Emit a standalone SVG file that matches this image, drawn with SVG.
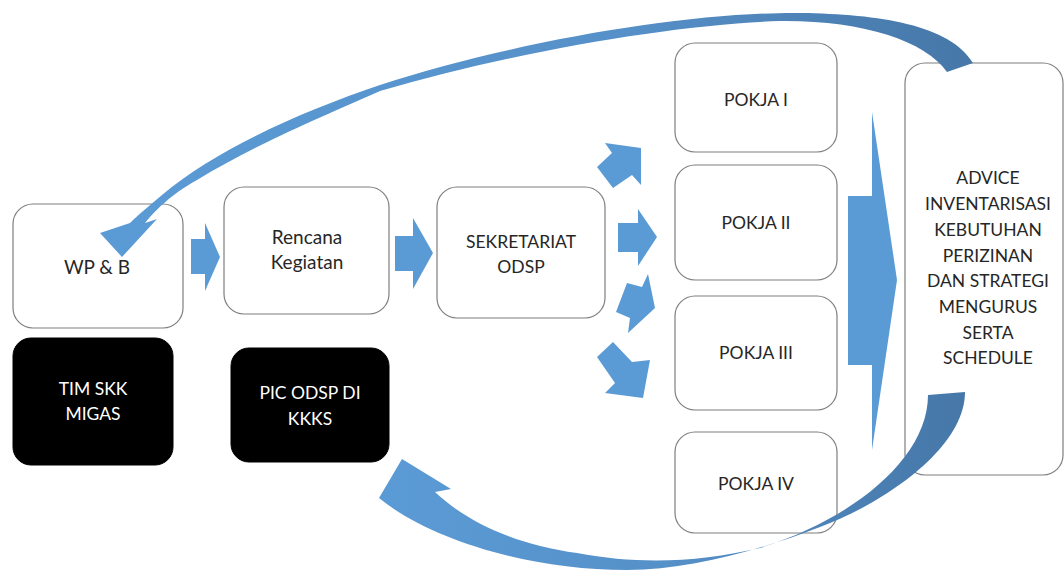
<svg xmlns="http://www.w3.org/2000/svg" width="1064" height="571" viewBox="0 0 1064 571">
<defs>
<style>
.box{fill:#fff;stroke:#7f7f7f;stroke-width:1.2}
.blk{fill:#000;stroke:#000}
.t{font-family:Lato,"Open Sans","Liberation Sans",sans-serif;font-size:17.5px;fill:#262626;text-anchor:middle}
.tl{font-size:19px}
.tw{font-family:Lato,"Open Sans","Liberation Sans",sans-serif;font-size:17.5px;fill:#fff;text-anchor:middle}
.arr{fill:#5b9bd5}
</style>
<linearGradient id="gTop" x1="0" y1="0" x2="1" y2="0">
<stop offset="0" stop-color="#5b9bd5"/>
<stop offset="0.6" stop-color="#5690c8"/>
<stop offset="1" stop-color="#4677a8"/>
</linearGradient>
<linearGradient id="gBot" x1="0" y1="0" x2="1" y2="0">
<stop offset="0" stop-color="#5b9bd5"/>
<stop offset="0.5" stop-color="#5590c8"/>
<stop offset="1" stop-color="#4677a8"/>
</linearGradient>
</defs>
<rect width="1064" height="571" fill="#fff"/>

<g id="wpb"><rect class="box" x="13" y="204" width="170" height="124" rx="20"/><text class="t tl" x="97" y="274">WP &amp; B</text></g>
<g id="timskk"><rect class="blk" x="13" y="338" width="160" height="127" rx="18"/><text class="tw" x="93" y="395">TIM SKK</text><text class="tw" x="93" y="420">MIGAS</text></g>
<g id="rencana"><rect class="box" x="224" y="187" width="165" height="127" rx="20"/><text class="t tl" x="307" y="244">Rencana</text><text class="t tl" x="307" y="269">Kegiatan</text></g>
<g id="pic"><rect class="blk" x="231" y="348" width="158" height="114" rx="18"/><text class="tw" x="310" y="399">PIC ODSP DI</text><text class="tw" x="310" y="425">KKKS</text></g>
<g id="sekretariat"><rect class="box" x="437" y="187" width="168" height="131" rx="20"/><text class="t" x="521" y="248">SEKRETARIAT</text><text class="t" x="521" y="273">ODSP</text></g>
<g id="pokja1"><rect class="box" x="675" y="43" width="162" height="109" rx="20"/><text class="t" x="756" y="106">POKJA I</text></g>
<g id="pokja2"><rect class="box" x="675" y="165" width="162" height="115" rx="20"/><text class="t" x="756" y="229">POKJA II</text></g>
<g id="pokja3"><rect class="box" x="675" y="296" width="162" height="114" rx="20"/><text class="t" x="756" y="359">POKJA III</text></g>
<g id="pokja4"><rect class="box" x="675" y="432" width="162" height="101" rx="20"/><text class="t" x="756" y="490">POKJA IV</text></g>
<g id="advice"><rect class="box" x="905" y="63" width="158" height="412" rx="20"/>
<text class="t" x="988" y="184">ADVICE</text>
<text class="t" x="988" y="210">INVENTARISASI</text>
<text class="t" x="988" y="236">KEBUTUHAN</text>
<text class="t" x="988" y="262">PERIZINAN</text>
<text class="t" x="988" y="287">DAN STRATEGI</text>
<text class="t" x="988" y="313">MENGURUS</text>
<text class="t" x="988" y="339">SERTA</text>
<text class="t" x="988" y="364">SCHEDULE</text>
</g>

<g id="connectors">
<polygon class="arr" points="191,239 205,239 205,223 220,257 205,291 205,274 191,274"/>
<polygon class="arr" points="395,236 413,236 413,218 433,253 413,289 413,271 395,271"/>
<polygon class="arr" points="597,167 613,188 632,175 641,185 641,148 605,143 612,153"/>
<polygon class="arr" points="618,223 638,223 638,209 657,237 638,266 638,252 618,252"/>
<polygon class="arr" points="627,283 642,287 648,274 655,308 628,333 630,318 616,312"/>
<polygon class="arr" points="613,342 632,362 650,360 643,398 605,393 615,383 597,357"/>
<polygon class="arr" points="848,196 872,196 872,112 897,280 872,450 872,365 848,365"/>
<path fill="url(#gTop)" d="M973,63 C950,25 880,14 800,13 C690,12 520,40 380,85 C300,112 215,150 162,195 C148,207 138,215 130,223 L100,233 L122,257 L157,219 L145,223 C155,211 170,195 197,180 C250,148 300,126 380,91 C520,50 680,24 780,21 C860,20 925,40 947,72 Z"/>
<path fill="url(#gBot)" d="M965,392 C965,450 880,505 820,527 C760,550 690,570 627,570 C530,570 430,540 379,498 L402,459 L451,489 L435,492 C470,525 520,545 577,553 C640,565 700,562 760,548 C850,520 928,460 928,395 Z"/>
</g>
</svg>
